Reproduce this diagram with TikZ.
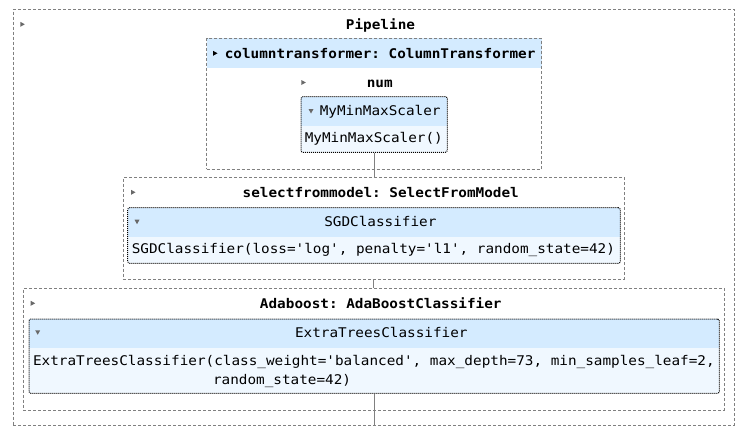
\documentclass[tikz,border=0pt]{standalone}
\usepackage{fontspec}
\setmonofont[FakeStretch=1.075]{DejaVu Sans Mono}
\usetikzlibrary{fit}
\definecolor{hdr}{HTML}{D4EBFF}
\definecolor{bdy}{HTML}{F0F8FF}
\definecolor{tri}{HTML}{696969}
\tikzset{
  dbox/.style={draw=gray, line width=0.75pt, dash pattern=on 2.25pt off 1.5pt, inner sep=0pt},
  ebox/.style={draw=black, line width=0.75pt, dash pattern=on 0.75pt off 0.75pt, inner sep=0pt, rounded corners=1.5pt},
  lbl/.style={font=\ttfamily\bfseries\fontsize{10}{12}\selectfont, inner sep=0pt, anchor=base},
  lblw/.style={font=\ttfamily\bfseries\fontsize{10}{12}\selectfont, inner sep=0pt, anchor=base west},
  txt/.style={font=\ttfamily\fontsize{10}{12}\selectfont, inner sep=0pt, anchor=base west},
  txtc/.style={font=\ttfamily\fontsize{10}{12}\selectfont, inner sep=0pt, anchor=base},
  conn/.style={draw=gray, line width=0.75pt},
}
\newcommand\trir[3][tri]{\fill[#1] (#2,#3) ++(-2,-2.5) -- ++(4.5,2.5) -- ++(-4.5,2.5) -- cycle;}
\newcommand\trid[2]{\fill[tri] (#1,#2) ++(-2.5,-2) -- ++(5,0) -- ++(-2.5,4.5) -- cycle;}
\begin{document}
\begin{tikzpicture}[x=0.75pt, y=-0.75pt]
\useasboundingbox (0,0) rectangle (740,432);
\fill[white] (0,0) rectangle (740,432);

% Pipeline
\node[dbox, fit={(13.3,9.3)(734,425.5)}] (pipe) {};
\trir{22.3}{24.3}
\node[lbl] (pipelbl) at (380.5,29) {Pipeline};

% ColumnTransformer
\fill[hdr] (206.7,38.3) rectangle (541.7,67.7);
\node[dbox, fit={(206.7,38.3)(541.7,169)}] (ct) {};
\trir[black]{215}{53.3}
\node[lblw] (ctlbl) at (224.5,58) {columntransformer: ColumnTransformer};

% num
\trir{303.3}{82.5}
\node[lbl] (numlbl) at (379.8,87) {num};

% MyMinMaxScaler
\fill[bdy] (301,96.7) rectangle (447.3,152.3);
\fill[hdr] (301,96.7) rectangle (447.3,126);
\node[ebox, fit={(301,96.7)(447.3,152.3)}] (mm) {};
\trid{311}{111}
\node[txt] (mmhdr) at (319.5,115.5) {MyMinMaxScaler};
\node[txt] (mmbody) at (304.5,142) {MyMinMaxScaler()};

% SelectFromModel
\node[dbox, fit={(123.3,177.3)(624.3,279)}] (sfm) {};
\trir{133}{192.3}
\node[lbl] (sfmlbl) at (380.8,197) {selectfrommodel: SelectFromModel};

% SGDClassifier
\fill[bdy] (127.7,207.7) rectangle (620.3,263.3);
\fill[hdr] (127.7,207.7) rectangle (620.3,236.7);
\node[ebox, fit={(127.7,207.7)(620.3,263.3)}] (sgd) {};
\trid{137}{221.7}
\node[txtc] (sgdhdr) at (380.4,226) {SGDClassifier};
\node[txt] (sgdbody) at (131.5,253.5) {SGDClassifier(loss='log', penalty='l1', random\_state=42)};

% AdaBoost
\node[dbox, fit={(23.3,288.3)(724.3,410)}] (ada) {};
\trir{32.7}{303.3}
\node[lbl] (adalbl) at (380.8,308) {Adaboost: AdaBoostClassifier};

% ExtraTrees
\fill[bdy] (29,319) rectangle (719.3,393.3);
\fill[hdr] (29,319) rectangle (719.3,347.7);
\node[ebox, fit={(29,319)(719.3,393.3)}] (et) {};
\trid{37.7}{332.3}
\node[txtc] (ethdr) at (381.3,337) {ExtraTreesClassifier};
\node[txt] (etbody1) at (32.8,365.5) {ExtraTreesClassifier(class\_weight='balanced', max\_depth=73, min\_samples\_leaf=2,};
\node[txt] (etbody2) at (212.8,384) {random\_state=42)};

% connectors
\draw[conn] (mm.south) -- (mm.south |- sfm.north);
\draw[conn] (sfm.south) -- (sfm.south |- ada.north);
\draw[conn] (et.south) -- (et.south |- pipe.south);
\end{tikzpicture}
\end{document}
